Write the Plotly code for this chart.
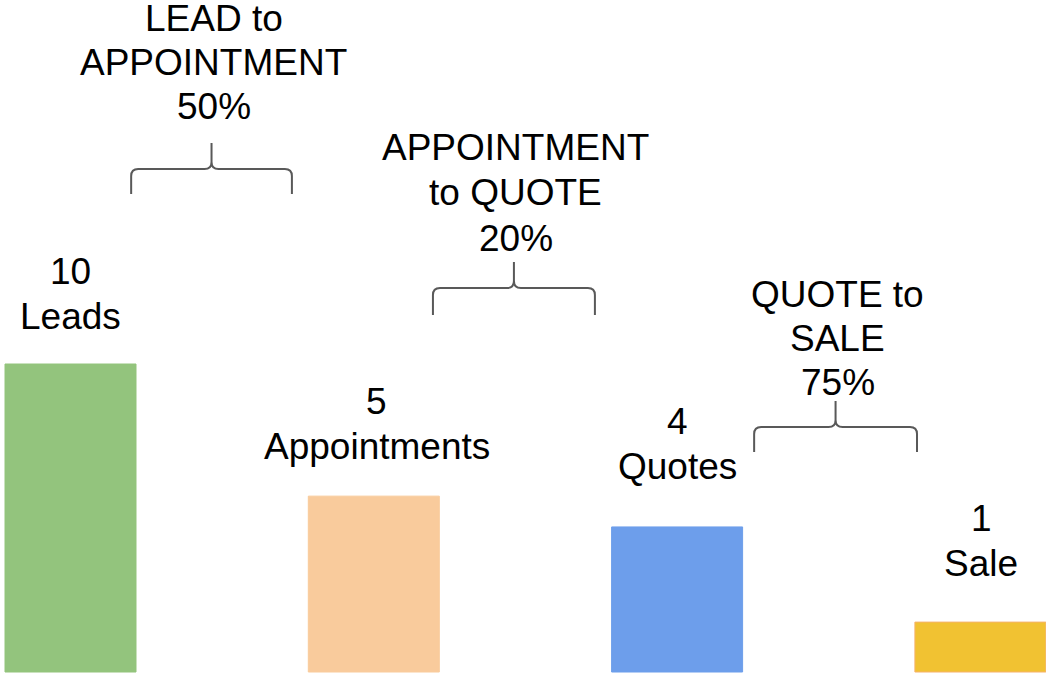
import plotly.graph_objects as go

# ---- data ----
stages = ["Leads", "Appointments", "Quotes", "Sale"]
counts = [10, 5, 4, 1]
count_labels = ["Leads", "Appointments", "Quotes", "Sale"]
bar_heights = [10, 5.71, 4.71, 1.62]   # drawn heights (as in the reference)
bar_colors = ["#93c47d", "#f9cb9c", "#6d9eeb", "#f1c232"]
bar_edges = ["#93c47d", "#f9cb9c", "#6d9eeb", "#f6b26b"]
conv_titles = [["LEAD to", "APPOINTMENT", "50%"],
               ["APPOINTMENT", "to QUOTE", "20%"],
               ["QUOTE to", "SALE", "75%"]]
conv_rates = [50, 20, 75]

# ---- layout geometry ----
W, H = 1046, 673
PX_X = 303.3          # pixels per category step
X0_PX = 70.5          # pixel centre of first bar
PX_Y = 30.8           # pixels per height unit
Y0_PX = 672           # pixel of baseline

def dx(px):
    return (px - X0_PX) / PX_X

def dy(py):
    return (Y0_PX - py) / PX_Y

xs = list(range(len(stages)))
fig = go.Figure(go.Bar(
    x=xs, y=bar_heights, width=131 / PX_X,
    marker=dict(color=bar_colors, line=dict(color=bar_edges, width=1)),
    hoverinfo="skip",
))

FONT = dict(family="Liberation Sans, Arial, sans-serif", size=37, color="#000000")
ann = []
# value labels above bars
lab_y = [(271, 316), (401, 446), (421, 466), (518, 563)]
lab_dx = [0, 3, 0, 1]
for i in xs:
    for j, t in enumerate([str(counts[i]), count_labels[i]]):
        ann.append(dict(x=i + dx(X0_PX + lab_dx[i]) , y=dy(lab_y[i][j]), xref="x", yref="y",
                        text=t, showarrow=False, font=FONT, xanchor="center", yanchor="middle"))

# braces + conversion labels
brace_x = [(0.2, 0.73), (0.195, 0.729), (0.254, 0.791)]
brace_y = [(143, 169, 194), (262, 288, 315), (401, 427, 452)]
title_y = [(18, 62, 106), (147, 192, 238), (294, 338, 382)]
shapes = []
for k in range(3):
    left_px = X0_PX + (k + brace_x[k][0]) * PX_X
    right_px = X0_PX + (k + brace_x[k][1]) * PX_X
    cx_px = (left_px + right_px) / 2
    tip, hy, bot = brace_y[k]
    r = 7
    pts = [
        f"M {dx(left_px)},{dy(bot)}",
        f"L {dx(left_px)},{dy(hy + r)}",
        f"Q {dx(left_px)},{dy(hy)} {dx(left_px + r)},{dy(hy)}",
        f"L {dx(cx_px - r)},{dy(hy)}",
        f"Q {dx(cx_px)},{dy(hy)} {dx(cx_px)},{dy(hy - r)}",
        f"L {dx(cx_px)},{dy(tip)}",
        f"M {dx(cx_px)},{dy(hy - r)}",
        f"Q {dx(cx_px)},{dy(hy)} {dx(cx_px + r)},{dy(hy)}",
        f"L {dx(right_px - r)},{dy(hy)}",
        f"Q {dx(right_px)},{dy(hy)} {dx(right_px)},{dy(hy + r)}",
        f"L {dx(right_px)},{dy(bot)}",
    ]
    shapes.append(dict(type="path", xref="x", yref="y", path=" ".join(pts),
                       line=dict(color="#595959", width=2)))
    lines = conv_titles[k][:2] + [f"{conv_rates[k]}%"]
    for j, t in enumerate(lines):
        ann.append(dict(x=dx(cx_px + 2), y=dy(title_y[k][j]), xref="x", yref="y",
                        text=t, showarrow=False, font=FONT, xanchor="center", yanchor="middle"))

fig.update_layout(
    width=W, height=H, margin=dict(l=0, r=0, t=0, b=0),
    paper_bgcolor="white", plot_bgcolor="white",
    showlegend=False, annotations=ann, shapes=shapes,
    xaxis=dict(range=[dx(0), dx(W)], visible=False, fixedrange=True),
    yaxis=dict(range=[dy(H), dy(0)], visible=False, fixedrange=True),
)
fig.write_html("out.html", config={"displayModeBar": False},
               post_script="document.body.style.margin='0';document.body.style.overflow='hidden';")
